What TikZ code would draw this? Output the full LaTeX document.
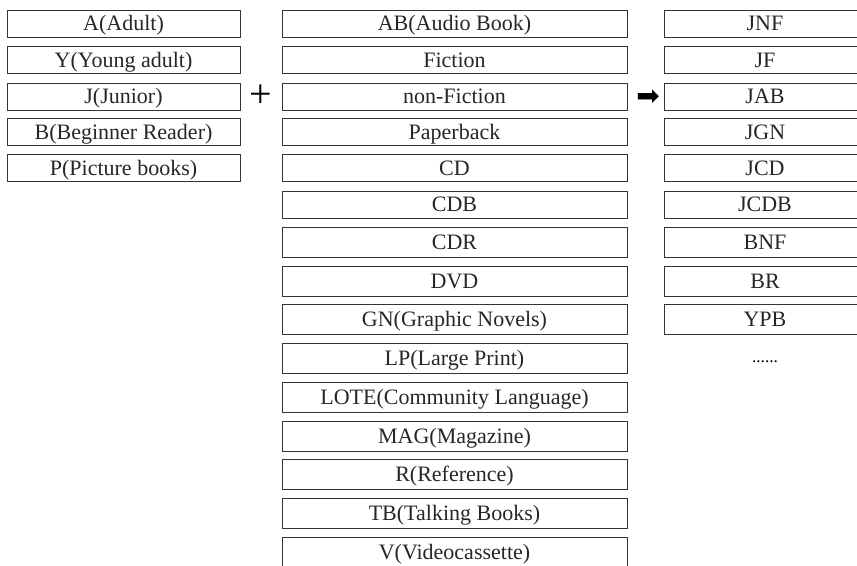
\documentclass[tikz,border=0pt]{standalone}
\usepackage{fontspec}
\setmainfont{Liberation Serif}
\newfontfamily\symfont{DejaVu Sans}
\tikzset{
  catbox/.style={draw=black!80, line width=0.75pt, inner sep=0pt, text=black!85,
    text height=11pt, text depth=0pt,
    minimum height=20.25pt, font=\fontsize{16.5}{17}\selectfont},
  tallbox/.style={minimum height=22.5pt},
  agebox/.style={catbox, minimum width=174.75pt},
  typebox/.style={catbox, minimum width=258.75pt},
  codebox/.style={catbox, minimum width=151.5pt}
}
\begin{document}
\begin{tikzpicture}[x=0.75pt,y=-0.75pt]
        \clip (0,0) rectangle (857,565);
        % age groups
        \node[agebox] (adult) at (123.5,23.5) {A(Adult)};
        \node[agebox] (young) at (123.5,60) {Y(Young adult)};
        \node[agebox] (junior) at (123.5,96.5) {J(Junior)};
        \node[agebox] (beginner) at (123.5,132) {B(Beginner Reader)};
        \node[agebox] (picture) at (123.5,168) {P(Picture books)};
        \node[font=\fontsize{30}{30}\selectfont] (plus) at (261,96) {+};
        % collection types
        \node[typebox] (audio) at (454.5,23.5) {AB(Audio Book)};
        \node[typebox] (fiction) at (454.5,60) {Fiction};
        \node[typebox] (nonfiction) at (454.5,96.5) {non-Fiction};
        \node[typebox] (paperback) at (454.5,132) {Paperback};
        \node[typebox] (cd) at (454.5,168) {CD};
        \node[typebox] (cdb) at (454.5,204.5) {CDB};
        \node[typebox,tallbox] (cdr) at (454.5,242) {CDR};
        \node[typebox,tallbox] (dvd) at (454.5,281) {DVD};
        \node[typebox,tallbox] (graphic) at (454.5,319) {GN(Graphic Novels)};
        \node[typebox,tallbox] (large) at (454.5,358) {LP(Large Print)};
        \node[typebox,tallbox] (lote) at (454.5,397) {LOTE(Community Language)};
        \node[typebox,tallbox] (magazine) at (454.5,436) {MAG(Magazine)};
        \node[typebox,tallbox] (reference) at (454.5,474) {R(Reference)};
        \node[typebox,tallbox] (talking) at (454.5,513) {TB(Talking Books)};
        \node[typebox,tallbox] (video) at (454.5,552) {V(Videocassette)};
        \node[font=\symfont\fontsize{21}{21}\selectfont] (arrow) at (648,98) {➡};
        % resulting codes
        \node[codebox] (jnf) at (765,23.5) {JNF};
        \node[codebox] (jf) at (765,60) {JF};
        \node[codebox] (jab) at (765,96.5) {JAB};
        \node[codebox] (jgn) at (765,132) {JGN};
        \node[codebox] (jcd) at (765,168) {JCD};
        \node[codebox] (jcdb) at (765,204.5) {JCDB};
        \node[codebox,tallbox] (bnf) at (765,242) {BNF};
        \node[codebox,tallbox] (br) at (765,281) {BR};
        \node[codebox,tallbox] (ypb) at (765,319) {YPB};
        \node[font=\fontsize{13}{13}\selectfont] (more) at (765,362) {......};
    \end{tikzpicture}
\end{document}
